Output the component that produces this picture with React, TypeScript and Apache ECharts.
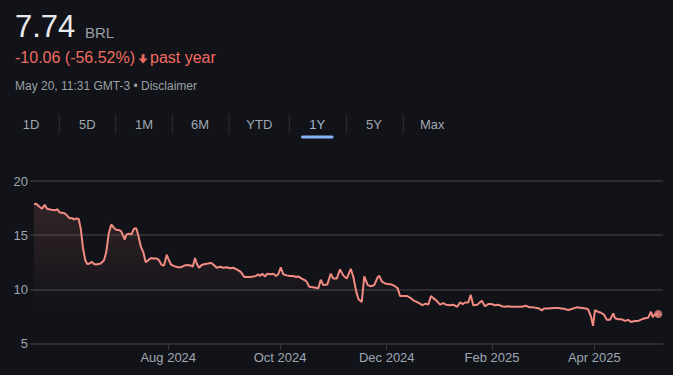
import React, { useEffect, useRef } from "react";
import * as echarts from "echarts";

// Trading-day index (x) and price in BRL (y)
const dayIndex = [
  0, 0.9, 2.3, 3.2, 4.3, 5.2, 6.9, 8.7, 9.3, 10.3, 12, 12.9, 14.3, 15.2, 15.9, 16.9, 17.9, 18.7, 19.6, 20.5,
  21.3, 22.3, 23.2, 24, 24.9, 26.7, 28, 28.9, 29.9, 30.9, 31.9, 32.9, 34.3, 34.9, 36.3, 36.9, 38, 38.9, 40, 40.9,
  41.7, 42.8, 43.7, 44.7, 45.7, 46.8, 47.7, 49.1, 50, 51.1, 52, 53.1, 53.7, 54.8, 56.1, 57.5, 58.8, 60.1, 61.5, 62.8,
  63.5, 64.4, 65.1, 66, 67.1, 68.4, 69.7, 70.8, 71.7, 73.1, 74.4, 75.7, 77.1, 78.4, 79.7, 81.1, 82.8, 84.1, 85.1, 86.4,
  87.7, 88.8, 89.7, 90.4, 91.3, 92.4, 93.3, 94.7, 95.7, 96.8, 97.7, 98.7, 99.7, 101.1, 102.4, 103.7, 104.8, 105.7, 107.1, 108.4,
  109.1, 110.1, 111.5, 112.8, 113.7, 114.7, 115.7, 117.3, 118.7, 119.7, 121.1, 122.4, 123.7, 125.1, 126.7, 127.7, 128.9, 129.8, 131.1, 132.1,
  133.5, 134.8, 136.1, 137.5, 138.1, 139.1, 140.4, 141.7, 143.1, 144.4, 145.5, 146.4, 147.7, 149.1, 150.4, 151.7, 153.1, 154.4, 155.3, 156.7,
  157.7, 158.8, 159.7, 161.1, 162.4, 163.7, 164.8, 166.4, 167.7, 169.3, 170.4, 171.5, 172.4, 173.7, 174.7, 175.7, 177.3, 179.1, 180.4, 181.7,
  183.1, 184.4, 185.7, 187.1, 188.4, 189.7, 191.1, 192.4, 193.7, 195.1, 196.8, 198.1, 199.7, 201.1, 202.1, 203.1, 204, 205.7, 207.7, 209.7,
  212.4, 213.7, 215.7, 217.1, 219.1, 220.7, 221.7, 222.8, 223.6, 224.4, 225.5, 226.8, 228.1, 229.1, 230.4, 231.7, 232.4, 233.7, 235.1, 236.4,
  237.7, 238.8, 240.4, 241.7, 243.1, 244.4, 245.7, 246.8, 247.5, 248.1, 248.8, 249.7,
];

const price = [
  17.85, 17.9, 17.6, 17.45, 17.8, 17.45, 17.35, 17.3, 17.4, 17.1, 17.05, 16.9, 16.55, 16.6, 16.45, 16.55, 16.5, 15.6, 13.8, 12.7,
  12.35, 12.4, 12.55, 12.35, 12.3, 12.4, 12.7, 13.45, 15.15, 16.0, 15.7, 15.5, 15.45, 15.35, 14.6, 15.05, 15.15, 15.05, 15.6, 15.65,
  15.0, 13.9, 13.45, 12.5, 12.7, 12.9, 12.85, 12.85, 12.7, 12.25, 12.2, 13.2, 12.85, 12.3, 12.15, 12.05, 12.05, 12.2, 12.25, 12.2,
  12.1, 12.9, 12.4, 12.0, 12.25, 12.35, 12.4, 12.45, 12.3, 12.0, 12.1, 12.0, 12.05, 11.95, 12.0, 11.85, 11.6, 11.15, 11.15, 11.15,
  11.2, 11.25, 11.4, 11.25, 11.45, 11.2, 11.45, 11.4, 11.45, 11.25, 11.4, 12.05, 11.4, 11.3, 11.25, 11.25, 11.15, 11.2, 11.0, 10.85,
  10.7, 10.25, 10.2, 10.15, 10.1, 10.9, 10.4, 10.45, 11.45, 11.0, 11.0, 11.85, 11.3, 11.0, 11.9, 11.2, 9.8, 9.1, 8.85, 11.2,
  10.4, 10.3, 10.4, 11.15, 11.25, 10.75, 10.55, 10.5, 10.45, 10.3, 10.1, 9.4, 9.4, 9.4, 9.25, 9.0, 8.85, 8.7, 8.55, 8.7,
  8.6, 9.4, 9.2, 8.95, 8.6, 8.75, 8.6, 8.55, 8.6, 8.4, 8.8, 8.65, 8.8, 8.8, 9.5, 8.55, 8.6, 8.95, 8.45, 8.65,
  8.65, 8.55, 8.6, 8.45, 8.4, 8.45, 8.4, 8.4, 8.4, 8.4, 8.5, 8.35, 8.35, 8.3, 8.25, 8.05, 8.25, 8.25, 8.3, 8.3,
  8.2, 8.1, 8.25, 8.35, 8.3, 8.25, 8.15, 7.5, 6.65, 8.1, 7.95, 7.85, 7.65, 7.2, 7.2, 7.8, 7.35, 7.25, 7.25, 7.1,
  7.2, 7.0, 7.1, 7.1, 7.25, 7.35, 7.4, 7.95, 7.45, 7.65, 7.7, 7.74,
];

const xTickPositions = [53.7, 98.4, 141.1, 183.2, 224.1];
const xTickLabels = ["Aug 2024", "Oct 2024", "Dec 2024", "Feb 2025", "Apr 2025"];
const yTicks = [5, 10, 15, 20];

const rangeTabs = ["1D", "5D", "1M", "6M", "YTD", "1Y", "5Y", "Max"];
const activeTab = "1Y";

const currentPrice = "7.74";
const currency = "BRL";
const changeText = "-10.06 (-56.52%)";
const periodText = "past year";
const timestampText = "May 20, 11:31 GMT-3 • Disclaimer";

const BG = "#121318";
const GRID = "#34373d";
const LABEL = "#9ea7b3";
const RED_TEXT = "#ee6b60";
const LINE = "#f28b82";
const FONT = "Arial, 'Liberation Sans', sans-serif";

export default function App() {
  const ref = useRef<HTMLDivElement>(null);

  useEffect(() => {
    document.body.style.margin = "0";
    document.body.style.background = BG;
    if (!ref.current) return;
    const chart = echarts.init(ref.current, null, { renderer: "svg" });

    const data = dayIndex.map((x, i) => [x, price[i]]);
    const last = data[data.length - 1];

    const tabX = [31, 87.3, 144, 200, 259.3, 317.3, 374, 432.3];
    const sepX = [59.3, 115.7, 172.3, 229, 289.3, 346.7, 403.3];

    const graphics: any[] = [
      { type: "text", style: { x: 15, y: 26, text: currentPrice, font: `31px ${FONT}`, fill: "#e8eaed", textVerticalAlign: "middle" } },
      { type: "text", style: { x: 85, y: 32, text: currency, font: `15px ${FONT}`, fill: "#9aa0a6", textVerticalAlign: "middle" } },
      { type: "text", style: { x: 15, y: 57.8, text: changeText, font: `16px ${FONT}`, fill: RED_TEXT, textVerticalAlign: "middle" } },
      { type: "rect", shape: { x: 141.6, y: 54.2, width: 3, height: 5.5 }, style: { fill: RED_TEXT } },
      { type: "polygon", shape: { points: [[138.6, 58.4], [147.6, 58.4], [143.1, 63.6]] }, style: { fill: RED_TEXT } },
      { type: "text", style: { x: 150, y: 57.8, text: periodText, font: `16px ${FONT}`, fill: RED_TEXT, textVerticalAlign: "middle" } },
      { type: "text", style: { x: 15, y: 85.8, text: timestampText, font: `12px ${FONT}`, fill: "#9aa0a6", textVerticalAlign: "middle" } },
    ];
    rangeTabs.forEach((t, i) => {
      graphics.push({
        type: "text",
        style: { x: tabX[i], y: 124.7, text: t, font: `13px ${FONT}`, fill: t === activeTab ? "#a3b5cc" : LABEL, textAlign: "center", textVerticalAlign: "middle" },
      });
    });
    sepX.forEach((x) => {
      graphics.push({ type: "line", shape: { x1: x, y1: 114, x2: x, y2: 134 }, style: { stroke: "#2c2f35", lineWidth: 1 } });
    });
    graphics.push({
      type: "rect",
      shape: { x: 301, y: 135.5, width: 32.5, height: 3, r: 1.5 },
      style: { fill: "#8ab4f8" },
    });

    chart.setOption({
      animation: false,
      backgroundColor: BG,
      textStyle: { fontFamily: FONT },
      grid: { left: 30, right: 10, top: 181, bottom: 31.3, containLabel: false },
      xAxis: {
        type: "value",
        min: -1.6,
        max: 251.6,
        axisLine: { show: false },
        splitLine: { show: false },
        axisTick: { show: true, length: 6, customValues: xTickPositions, lineStyle: { color: GRID, width: 1 } },
        axisLabel: {
          customValues: xTickPositions,
          color: LABEL,
          fontSize: 13,
          margin: 7,
          formatter: (v: number) => {
            let best = 0;
            xTickPositions.forEach((p, i) => {
              if (Math.abs(p - v) < Math.abs(xTickPositions[best] - v)) best = i;
            });
            return xTickLabels[best];
          },
        },
      },
      yAxis: {
        type: "value",
        min: yTicks[0],
        max: yTicks[yTicks.length - 1],
        interval: 5,
        axisLine: { show: false },
        axisTick: { show: false },
        splitLine: { show: true, lineStyle: { color: GRID, width: 1.5 } },
        axisLabel: { color: LABEL, fontSize: 13, margin: 2 },
      },
      series: [
        {
          type: "line",
          data,
          showSymbol: false,
          symbol: "none",
          lineStyle: { color: LINE, width: 2 },
          areaStyle: {
            color: new echarts.graphic.LinearGradient(0, 0, 0, 1, [
              { offset: 0, color: "rgba(242,139,130,0.2)" },
              { offset: 0.75, color: "rgba(242,139,130,0)" },
            ]),
          },
          z: 2,
        },
        {
          type: "scatter",
          data: [last],
          symbol: "circle",
          symbolSize: 8,
          itemStyle: { color: LINE },
          z: 3,
        },
      ],
      graphic: graphics,
    });

    return () => chart.dispose();
  }, []);

  return <div ref={ref} style={{ position: "absolute", left: 0, top: 0, width: 673, height: 375 }} />;
}
